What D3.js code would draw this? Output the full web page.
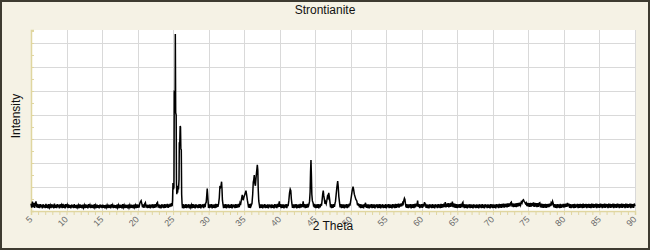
<!DOCTYPE html>
<html>
<head>
<meta charset="utf-8">
<script src="https://cdn.jsdelivr.net/npm/d3@7"></script>
<style>
  body { margin: 0; background: #f5f2e5; }
  svg { display: block; }
</style>
</head>
<body>
<div id="chart"></div>
<script>
// chart texts
const chartTitle = "Strontianite";
const xLabel = "2 Theta";
const yLabel = "Intensity";

// axis ticks
const xTicks = [5, 10, 15, 20, 25, 30, 35, 40, 45, 50, 55, 60, 65, 70, 75, 80, 85, 90];
const yGrid = [1000, 2000, 3000, 4000, 5000, 6000, 7000];

// diffraction scan, [2theta, counts]
const scan = [
  [5.0,310],[5.1,140],[5.2,390],[5.3,160],[5.4,340],[5.5,130],[5.6,310],[5.7,400],[5.8,150],[5.9,300],
  [6.0,130],[6.1,270],[6.2,120],[6.3,290],[6.4,150],[6.5,260],[6.6,110],[6.7,280],[6.8,140],[6.9,250],
  [7.0,120],[7.1,300],[7.2,130],[7.3,270],[7.4,110],[7.5,290],[7.6,150],[7.7,240],[7.8,120],[7.9,280],
  [8.0,140],[8.1,260],[8.2,110],[8.3,310],[8.4,130],[8.5,250],[8.6,120],[8.7,290],[8.8,150],[8.9,270],
  [9.0,110],[9.1,280],[9.2,140],[9.3,240],[9.4,120],[9.5,300],[9.6,130],[9.7,260],[9.8,110],[9.9,290],
  [10.0,150],[10.1,250],[10.2,120],[10.3,280],[10.4,130],[10.5,240],[10.6,110],[10.7,270],[10.8,140],[10.9,250],
  [11.0,120],[11.1,290],[11.2,130],[11.3,240],[11.4,110],[11.5,260],[11.6,150],[11.7,240],[11.8,120],[11.9,270],
  [12.0,130],[12.1,250],[12.2,110],[12.3,260],[12.4,140],[12.5,240],[12.6,120],[12.7,280],[12.8,130],[12.9,250],
  [13.0,110],[13.1,290],[13.2,140],[13.3,240],[13.4,120],[13.5,260],[13.6,130],[13.7,250],[13.8,110],[13.9,280],
  [14.0,150],[14.1,240],[14.2,120],[14.3,260],[14.4,130],[14.5,240],[14.6,110],[14.7,270],[14.8,140],[14.9,250],
  [15.0,120],[15.1,260],[15.2,130],[15.3,240],[15.4,110],[15.5,250],[15.6,150],[15.7,240],[15.8,120],[15.9,260],
  [16.0,130],[16.1,250],[16.2,110],[16.3,280],[16.4,140],[16.5,240],[16.6,120],[16.7,250],[16.8,130],[16.9,240],
  [17.0,110],[17.1,270],[17.2,140],[17.3,240],[17.4,120],[17.5,260],[17.6,130],[17.7,250],[17.8,110],[17.9,290],
  [18.0,150],[18.1,240],[18.2,120],[18.3,260],[18.4,130],[18.5,250],[18.6,110],[18.7,270],[18.8,140],[18.9,240],
  [19.0,120],[19.1,260],[19.2,130],[19.3,250],[19.4,110],[19.5,270],[19.6,150],[19.7,240],[19.8,120],[19.9,280],
  [20.0,130],[20.1,260],[20.2,140],[20.3,300],[20.4,380],[20.5,430],[20.6,300],[20.7,150],[20.8,270],[20.9,130],
  [21.0,300],[21.1,350],[21.2,140],[21.3,260],[21.4,120],[21.5,250],[21.6,130],[21.7,270],[21.8,110],[21.9,260],
  [22.0,140],[22.1,280],[22.2,120],[22.3,270],[22.4,130],[22.5,290],[22.6,150],[22.7,320],[22.8,360],[22.9,140],
  [23.0,270],[23.1,120],[23.2,250],[23.3,110],[23.4,280],[23.5,140],[23.6,260],[23.7,120],[23.8,290],[23.9,130],
  [24.0,270],[24.1,150],[24.2,300],[24.3,130],[24.4,280],[24.5,160],[24.6,310],[24.7,180],[24.8,330],[24.86,200],
  [24.92,450],[24.98,1170],[25.05,900],[25.12,1000],[25.16,4970],[25.25,4950],[25.28,4200],[25.31,7375],[25.36,4100],[25.43,4000],
  [25.47,1200],[25.52,700],[25.57,1050],[25.63,760],[25.70,1000],[25.76,900],[25.83,1300],[25.87,2830],[25.94,2830],[25.99,3540],
  [26.04,3500],[26.09,2580],[26.15,2550],[26.20,700],[26.26,300],[26.32,120],
  [26.4,290],[26.5,110],[26.6,270],[26.7,130],[26.8,290],[26.9,120],[27.0,260],[27.1,140],[27.2,280],[27.3,110],
  [27.4,270],[27.5,150],[27.6,250],[27.7,120],[27.8,290],[27.9,130],[28.0,260],[28.1,110],[28.2,280],[28.3,140],
  [28.4,250],[28.5,120],[28.6,270],[28.7,130],[28.8,290],[28.9,110],[29.0,260],[29.1,150],[29.2,280],[29.3,120],
  [29.4,300],[29.5,160],[29.58,330],[29.65,350],[29.72,600],[29.80,940],[29.86,680],[29.92,400],[29.98,130],
  [30.05,280],[30.1,120],[30.2,270],[30.3,140],[30.4,290],[30.5,110],[30.6,260],[30.7,130],[30.8,280],[30.9,120],
  [31.0,300],[31.1,140],[31.2,290],[31.3,170],[31.40,300],[31.50,550],[31.58,1000],[31.66,980],[31.74,1050],[31.82,1220],
  [31.88,900],[31.94,450],[32.02,280],
  [32.1,120],[32.2,270],[32.3,130],[32.4,290],[32.5,110],[32.6,260],[32.7,140],[32.8,280],[32.9,120],[33.0,250],
  [33.1,130],[33.2,290],[33.3,110],[33.4,270],[33.5,150],[33.6,260],[33.7,120],[33.8,290],[33.9,130],[34.0,280],
  [34.1,140],[34.2,300],[34.3,160],[34.4,320],[34.48,250],[34.58,420],[34.73,670],[34.85,450],[34.95,560],[35.10,700],
  [35.25,850],[35.33,700],[35.45,450],[35.55,280],[35.62,140],[35.70,290],[35.78,130],[35.86,300],[35.95,200],[36.10,320],
  [36.20,700],[36.28,1200],[36.35,1300],[36.42,1500],[36.50,1150],[36.58,1050],[36.66,1350],[36.74,1600],[36.85,1920],[36.92,1700],
  [36.98,880],[37.05,420],[37.12,290],
  [37.2,120],[37.3,270],[37.4,130],[37.5,280],[37.6,110],[37.7,260],[37.8,140],[37.9,290],[38.0,120],[38.1,250],
  [38.2,130],[38.3,280],[38.4,110],[38.5,270],[38.6,150],[38.7,260],[38.8,120],[38.9,280],[39.0,130],[39.1,250],
  [39.2,110],[39.3,290],[39.4,140],[39.5,270],[39.6,120],[39.7,300],[39.8,160],[39.9,330],[39.95,400],[40.0,170],
  [40.1,290],[40.2,120],[40.3,270],[40.4,130],[40.5,280],[40.6,110],[40.7,260],[40.8,140],[40.9,290],[41.0,120],
  [41.1,280],[41.18,200],[41.28,420],[41.38,750],[41.48,910],[41.56,850],[41.64,500],[41.72,300],[41.8,130],
  [41.9,280],[42.0,120],[42.1,270],[42.2,140],[42.3,290],[42.4,110],[42.5,260],[42.6,130],[42.7,280],[42.8,120],
  [42.9,300],[43.0,140],[43.1,290],[43.2,160],[43.3,400],[43.4,150],[43.5,290],[43.6,120],[43.7,280],[43.8,130],
  [43.9,300],[44.0,150],[44.1,260],[44.20,400],[44.28,800],[44.34,1600],[44.40,2120],[44.46,1500],[44.52,700],[44.60,420],
  [44.70,340],[44.78,180],
  [44.85,300],[44.9,140],[45.0,280],[45.1,120],[45.2,270],[45.3,130],[45.4,290],[45.5,110],[45.6,280],[45.7,150],
  [45.8,300],[45.88,220],[45.95,400],[46.05,700],[46.13,850],[46.20,650],[46.30,450],[46.38,300],[46.45,380],[46.54,300],
  [46.62,420],[46.72,600],[46.80,550],[46.90,760],[46.98,600],[47.08,350],[47.15,150],
  [47.2,290],[47.3,120],[47.4,280],[47.5,130],[47.6,290],[47.7,170],[47.78,320],[47.85,400],[47.95,700],[48.05,1000],
  [48.16,1250],[48.24,1000],[48.32,600],[48.42,350],[48.5,150],
  [48.6,290],[48.7,120],[48.8,270],[48.9,130],[49.0,280],[49.1,110],[49.2,260],[49.3,140],[49.4,290],[49.5,120],
  [49.6,280],[49.7,150],[49.8,310],[49.88,220],[49.95,350],[50.08,600],[50.20,850],[50.32,1010],[50.40,900],[50.50,700],
  [50.60,600],[50.72,480],[50.85,420],[50.95,250],[51.00,330],[51.08,220],[51.15,300],[51.22,150],
  [51.3,290],[51.4,120],[51.5,280],[51.6,130],[51.7,270],[51.8,110],[51.9,290],[52.0,170],[52.05,340],[52.1,300],
  [52.2,130],[52.3,270],[52.4,120],[52.5,280],[52.6,110],[52.7,260],[52.8,140],[52.9,290],[53.0,120],[53.1,270],
  [53.2,130],[53.3,280],[53.4,110],[53.5,260],[53.6,150],[53.7,280],[53.8,120],[53.9,270],[54.0,130],[54.1,290],
  [54.2,110],[54.3,260],[54.4,140],[54.5,280],[54.6,120],[54.7,250],[54.8,130],[54.9,290],[55.0,110],[55.1,270],
  [55.2,150],[55.3,290],[55.4,120],[55.5,280],[55.6,130],[55.7,270],[55.8,110],[55.9,290],[56.0,140],[56.1,280],
  [56.2,120],[56.3,300],[56.4,130],[56.5,290],[56.6,150],[56.7,310],[56.8,140],[56.9,300],[57.0,180],[57.1,320],
  [57.2,200],[57.3,340],[57.38,300],[57.45,420],[57.55,530],[57.62,480],[57.70,300],[57.78,150],
  [57.85,290],[57.9,130],[58.0,280],[58.1,120],[58.2,270],[58.3,140],[58.4,290],[58.5,110],[58.6,280],[58.7,130],
  [58.8,290],[58.9,120],[59.0,300],[59.1,150],[59.2,310],[59.3,200],[59.41,430],[59.5,170],[59.6,290],[59.7,120],
  [59.8,270],[59.9,140],[60.0,290],[60.1,130],[60.2,300],[60.3,180],[60.38,370],[60.45,250],[60.5,320],[60.6,130],
  [60.7,280],[60.8,120],[60.9,270],[61.0,110],[61.1,280],[61.2,140],[61.3,260],[61.4,120],[61.5,290],[61.6,130],
  [61.7,270],[61.8,110],[61.9,280],[62.0,150],[62.1,260],[62.2,120],[62.3,290],[62.4,140],[62.5,280],[62.6,120],
  [62.7,300],[62.8,130],[62.9,290],[63.0,150],[63.1,310],[63.2,160],[63.3,370],[63.4,150],[63.5,310],[63.6,170],
  [63.7,330],[63.8,150],[63.9,320],[64.0,170],[64.1,340],[64.2,180],[64.3,390],[64.4,160],[64.5,320],[64.6,140],
  [64.7,300],[64.8,130],[64.9,290],[65.0,120],[65.1,280],[65.2,140],[65.3,290],[65.4,130],[65.5,300],[65.6,150],
  [65.7,320],[65.78,360],[65.85,150],[65.9,290],[66.0,120],[66.1,270],[66.2,130],[66.3,280],[66.4,110],[66.5,260],
  [66.6,140],[66.7,280],[66.8,120],[66.9,270],[67.0,130],[67.1,260],[67.2,110],[67.3,280],[67.4,140],[67.5,250],
  [67.6,120],[67.7,270],[67.8,130],[67.9,260],[68.0,110],[68.1,280],[68.2,140],[68.3,260],[68.4,120],[68.5,290],
  [68.6,130],[68.7,270],[68.8,110],[68.9,280],[69.0,150],[69.1,260],[69.2,120],[69.3,280],[69.4,130],[69.5,270],
  [69.6,110],[69.7,290],[69.8,140],[69.9,270],[70.0,120],[70.1,280],[70.2,130],[70.3,270],[70.4,110],[70.5,290],
  [70.6,150],[70.7,280],[70.8,120],[70.9,300],[71.0,140],[71.1,290],[71.2,130],[71.3,300],[71.4,150],[71.5,310],
  [71.6,140],[71.7,300],[71.8,160],[71.9,310],[72.0,150],[72.1,320],[72.2,170],[72.3,320],[72.4,190],[72.5,340],
  [72.6,370],[72.7,180],[72.8,320],[72.9,160],[73.0,310],[73.1,170],[73.2,320],[73.3,160],[73.4,330],[73.5,180],
  [73.6,340],[73.7,200],[73.8,350],[73.9,250],[74.0,380],[74.1,330],[74.2,440],[74.3,470],[74.4,400],[74.5,360],
  [74.6,300],[74.7,340],[74.8,200],[74.9,340],[75.0,180],[75.1,330],[75.2,170],[75.3,340],[75.4,180],[75.5,330],
  [75.6,200],[75.7,360],[75.8,170],[75.9,340],[76.0,180],[76.1,330],[76.2,160],[76.3,330],[76.4,170],[76.5,320],
  [76.6,340],[76.7,150],[76.8,310],[76.9,140],[77.0,300],[77.1,130],[77.2,290],[77.3,140],[77.4,300],[77.5,130],
  [77.6,290],[77.7,150],[77.8,300],[77.9,160],[78.0,310],[78.1,200],[78.2,340],[78.3,280],[78.4,400],[78.5,300],
  [78.6,150],[78.7,290],[78.8,130],[78.9,280],[79.0,120],[79.1,290],[79.2,140],[79.3,280],[79.4,120],[79.5,300],
  [79.6,130],[79.7,280],[79.8,150],[79.9,300],[80.0,140],[80.1,300],[80.2,160],[80.3,310],[80.4,170],[80.5,340],
  [80.6,200],[80.7,310],[80.8,130],[80.9,290],[81.0,120],[81.1,280],[81.2,140],[81.3,290],[81.4,120],[81.5,300],
  [81.6,130],[81.7,280],[81.8,150],[81.9,300],[82.0,120],[82.1,290],[82.2,130],[82.3,300],[82.4,140],[82.5,290],
  [82.6,120],[82.7,310],[82.8,130],[82.9,290],[83.0,150],[83.1,300],[83.2,120],[83.3,290],[83.4,140],[83.5,300],
  [83.6,130],[83.7,290],[83.8,120],[83.9,310],[84.0,140],[84.1,300],[84.2,130],[84.3,290],[84.4,150],[84.5,310],
  [84.6,120],[84.7,300],[84.8,140],[84.9,290],[85.0,130],[85.1,310],[85.2,150],[85.3,300],[85.4,120],[85.5,290],
  [85.6,140],[85.7,310],[85.8,130],[85.9,300],[86.0,150],[86.1,290],[86.2,120],[86.3,310],[86.4,140],[86.5,300],
  [86.6,130],[86.7,290],[86.8,150],[86.9,310],[87.0,120],[87.1,300],[87.2,140],[87.3,290],[87.4,130],[87.5,310],
  [87.6,150],[87.7,300],[87.8,120],[87.9,290],[88.0,140],[88.1,310],[88.2,130],[88.3,300],[88.4,150],[88.5,290],
  [88.6,120],[88.7,310],[88.8,140],[88.9,300],[89.0,130],[89.1,290],[89.2,150],[89.3,310],[89.4,120],[89.5,300],
  [89.6,140],[89.7,290],[89.8,130],[89.9,310],[90.0,200]
];

const width = 650, height = 250;
const plot = { left: 31, right: 635, top: 30, bottom: 211 };
const axisColor = "#e0d6a0";

const svg = d3.select("#chart").append("svg")
  .attr("width", width)
  .attr("height", height);

// background + frame
svg.append("rect")
  .attr("x", 1).attr("y", 1)
  .attr("width", width - 2).attr("height", height - 2)
  .attr("fill", "#f5f2e5")
  .attr("stroke", "#3e3b31")
  .attr("stroke-width", 2);

svg.append("rect")
  .attr("x", plot.left).attr("y", plot.top)
  .attr("width", plot.right - plot.left).attr("height", plot.bottom - plot.top)
  .attr("fill", "#ffffff");

// scales
const x = d3.scaleLinear().domain([5, 90]).range([plot.left, plot.right]);
const y = d3.scaleLinear().domain([0, 7540]).range([plot.bottom, plot.top]);

// grid
svg.append("g")
  .selectAll("line.vg")
  .data(xTicks.slice(1))
  .enter().append("line")
  .attr("x1", d => Math.round(x(d)) + 0.5).attr("x2", d => Math.round(x(d)) + 0.5)
  .attr("y1", plot.top).attr("y2", plot.bottom)
  .attr("stroke", "#d9d9d9");

svg.append("g")
  .selectAll("line.hg")
  .data(yGrid)
  .enter().append("line")
  .attr("x1", plot.left).attr("x2", plot.right)
  .attr("y1", d => Math.round(y(d)) + 0.5).attr("y2", d => Math.round(y(d)) + 0.5)
  .attr("stroke", "#d9d9d9");

// bottom axis: minor ticks each degree, labels every 5
const xAxis = svg.append("g")
  .attr("transform", `translate(0, ${plot.bottom})`)
  .call(d3.axisBottom(x).tickValues(d3.range(5, 91, 1)).tickSize(4).tickFormat(""));
xAxis.select(".domain").attr("stroke", axisColor).attr("stroke-width", 1.5);
xAxis.selectAll(".tick line").attr("stroke", axisColor);

svg.append("g")
  .selectAll("text")
  .data(xTicks)
  .enter().append("text")
  .attr("transform", d => `translate(${x(d) + 2}, ${plot.bottom + 9}) rotate(-45)`)
  .attr("text-anchor", "end")
  .attr("font-family", "Liberation Sans, Arial, sans-serif")
  .attr("font-size", 9)
  .attr("fill", "#6a6a6a")
  .text(d => d);

// left axis: ticks every 500, drawn inward
const yAxis = svg.append("g")
  .attr("transform", `translate(${plot.left}, 0)`)
  .call(d3.axisRight(y).tickValues(d3.range(500, 7540, 500)).tickSize(3).tickFormat(""));
yAxis.select(".domain").attr("stroke", axisColor).attr("stroke-width", 1.5);
yAxis.selectAll(".tick line").attr("stroke", axisColor);

// scan line
const line = d3.line()
  .x(d => x(d[0]))
  .y(d => y(d[1]));

svg.append("path")
  .datum(scan)
  .attr("d", line)
  .attr("fill", "none")
  .attr("stroke", "#000")
  .attr("stroke-width", 1.5)
  .attr("stroke-linejoin", "miter");

// texts
svg.append("text")
  .attr("x", 325).attr("y", 14)
  .attr("text-anchor", "middle")
  .attr("font-family", "Liberation Sans, Arial, sans-serif")
  .attr("font-size", 12)
  .attr("fill", "#111")
  .text(chartTitle);

svg.append("text")
  .attr("x", (plot.left + plot.right) / 2).attr("y", 230)
  .attr("text-anchor", "middle")
  .attr("font-family", "Liberation Sans, Arial, sans-serif")
  .attr("font-size", 12)
  .attr("fill", "#111")
  .text(xLabel);

svg.append("text")
  .attr("transform", "translate(20, 116) rotate(-90)")
  .attr("text-anchor", "middle")
  .attr("font-family", "Liberation Sans, Arial, sans-serif")
  .attr("font-size", 12)
  .attr("fill", "#111")
  .text(yLabel);
</script>
</body>
</html>
